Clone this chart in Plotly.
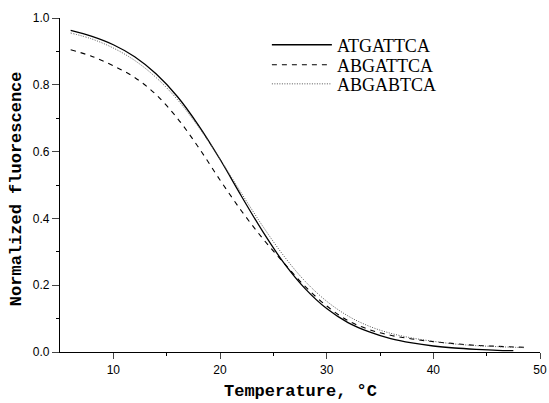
import plotly.graph_objects as go

temp_solid = [6, 8, 10, 12, 14, 16, 18, 20, 22, 24, 26, 28, 30, 32, 34, 36, 38, 40, 42, 44, 46, 47.5]
fl_atgattca = [0.963, 0.945, 0.920, 0.884, 0.833, 0.765, 0.678, 0.577, 0.467, 0.361, 0.266, 0.189,
               0.130, 0.088, 0.060, 0.040, 0.027, 0.018, 0.012, 0.008, 0.005, 0.004]

temp_dash = [6, 8, 10, 12, 14, 16, 18, 20, 22, 24, 26, 28, 30, 32, 34, 36, 38, 40, 42, 44, 46, 48.5]
fl_abgattca = [0.905, 0.885, 0.857, 0.822, 0.771, 0.700, 0.612, 0.515, 0.423, 0.340, 0.266, 0.196,
               0.138, 0.094, 0.067, 0.050, 0.039, 0.031, 0.025, 0.020, 0.017, 0.014]

temp_dot = [6, 8, 10, 12, 14, 16, 18, 20, 22, 24, 26, 28, 30, 32, 34, 36, 38, 40, 42, 44, 46, 48.5]
fl_abgabtca = [0.955, 0.937, 0.910, 0.873, 0.822, 0.756, 0.673, 0.578, 0.476, 0.377, 0.287, 0.211,
               0.152, 0.108, 0.077, 0.056, 0.042, 0.032, 0.024, 0.019, 0.016, 0.013]

x_ticks = [10, 20, 30, 40, 50]
y_ticks = [0.0, 0.2, 0.4, 0.6, 0.8, 1.0]

fig = go.Figure()
fig.add_trace(go.Scatter(x=temp_solid, y=fl_atgattca, mode="lines", name="ATGATTCA", legend="legend",
                         line=dict(color="black", width=1.3, shape="spline")))
fig.add_trace(go.Scatter(x=temp_dash, y=fl_abgattca, mode="lines", name="ABGATTCA", legend="legend2",
                         line=dict(color="black", width=1.1, dash="5px,5px", shape="spline")))
fig.add_trace(go.Scatter(x=temp_dot, y=fl_abgabtca, mode="lines", name="ABGABTCA", legend="legend3",
                         line=dict(color="#555555", width=1, dash="1px,1.5px", shape="spline")))

leg_font = dict(family="Liberation Serif", size=18, color="black")
leg_common = dict(x=0.431, xanchor="left", yanchor="middle", font=leg_font,
                  bgcolor="rgba(0,0,0,0)", itemwidth=60)
title_font = dict(family="Liberation Mono", size=17, color="black")

fig.update_layout(
    width=549, height=403,
    margin=dict(l=60, r=9, t=18, b=51, autoexpand=False),
    paper_bgcolor="white", plot_bgcolor="white",
    showlegend=True,
    legend=dict(y=0.919, **leg_common),
    legend2=dict(y=0.859, **leg_common),
    legend3=dict(y=0.802, **leg_common),
    font=dict(family="Liberation Sans", size=12, color="black"),
    annotations=[
        dict(text="<b>Normalized fluorescence</b>", xref="paper", yref="paper",
             x=-0.09, y=0.49, xanchor="center", yanchor="middle", textangle=-90,
             showarrow=False, font=title_font),
        dict(text="<b>Temperature, °C</b>", xref="paper", yref="paper",
             x=0.502, y=-0.118, xanchor="center", yanchor="middle",
             showarrow=False, font=title_font),
    ],
)
fig.update_xaxes(range=[5, 50], tickvals=x_ticks, ticks="outside", ticklen=6, tickwidth=1,
                 showline=True, linecolor="black", linewidth=1.2, showgrid=False, zeroline=False,
                 automargin=False, ticklabeloverflow="allow",
                 minor=dict(tickvals=[15, 25, 35, 45], ticks="outside", ticklen=3, tickcolor="black"),
                 tickfont=dict(family="Liberation Sans", size=12))
fig.update_yaxes(range=[0, 1], tickvals=y_ticks, tickformat=".1f", ticks="outside", ticklen=7, tickwidth=1,
                 showline=True, linecolor="black", linewidth=1.2, showgrid=False, zeroline=False,
                 automargin=False, ticklabeloverflow="allow",
                 minor=dict(tickvals=[0.1, 0.3, 0.5, 0.7, 0.9], ticks="outside", ticklen=3, tickcolor="black"),
                 tickfont=dict(family="Liberation Sans", size=12))

fig.write_html("out.html", config={"displayModeBar": False},
               post_script="document.body.style.margin='0';document.body.style.overflow='hidden';")
